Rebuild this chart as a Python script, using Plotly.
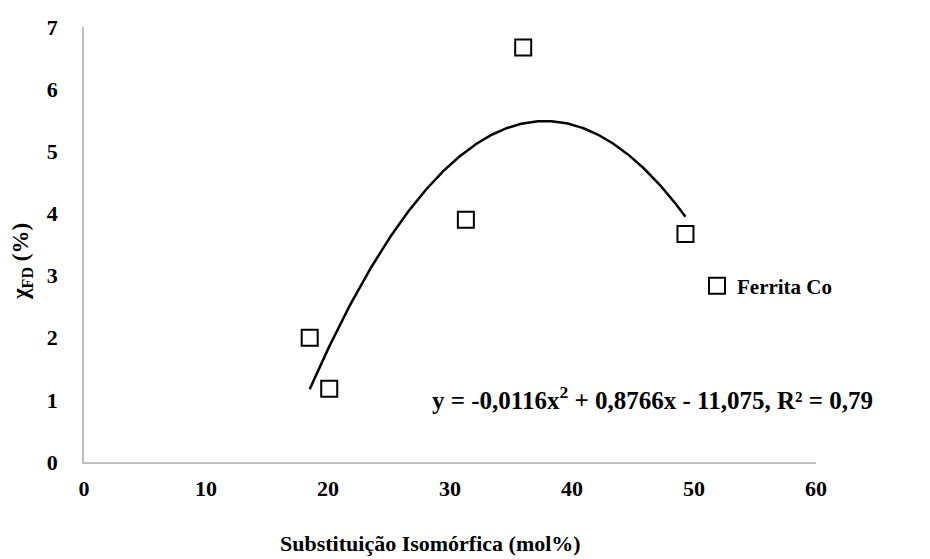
import numpy as np
import plotly.graph_objects as go

# Data
substituicao = [18.5, 20.1, 31.3, 36.0, 49.3]
chi_fd = [2.0, 1.18, 3.9, 6.67, 3.67]
series_name = "Ferrita Co"

# Trendline coefficients as shown on the chart
coef_a, coef_b, coef_c = -0.0116, 0.8766, -11.075
r2_text = "0,79"

x_ticks = [0, 10, 20, 30, 40, 50, 60]
y_ticks = [0, 1, 2, 3, 4, 5, 6, 7]

x_title = "Substituição Isomórfica (mol%)"
y_title = "χ<sub>FD</sub> (%)"

xt = np.linspace(min(substituicao), max(substituicao), 200)
yt = coef_a * xt**2 + coef_b * xt + coef_c

FONT = "Liberation Serif"

L, R, T, B = 84, 114, 27, 97
W, H = 930, 559
pw = W - L - R
ph = H - T - B


def px_x(p):
    return (p - L) / pw


def px_y(p):
    return (H - B - p) / ph


fig = go.Figure()
fig.add_trace(go.Scatter(
    x=xt, y=yt, mode="lines", line=dict(color="black", width=2.5),
    showlegend=False, hoverinfo="skip"))
fig.add_trace(go.Scatter(
    x=substituicao, y=chi_fd, mode="markers", name="<b>" + series_name + "</b>",
    marker=dict(symbol="square-open", size=16, color="black", line=dict(width=2, color="black"))))

eq = "<b>y = -0,0116x<sup>2</sup> + 0,8766x - 11,075, R² = " + r2_text + "</b>"
fig.add_annotation(x=px_x(875), y=px_y(398), xref="paper", yref="paper",
                   xanchor="right", yanchor="middle", text=eq, showarrow=False,
                   font=dict(family=FONT, size=25, color="black"))
fig.add_annotation(x=px_x(430), y=px_y(543), xref="paper", yref="paper",
                   xanchor="center", yanchor="middle", text="<b>" + x_title + "</b>",
                   showarrow=False, font=dict(family=FONT, size=22, color="black"))
fig.add_annotation(x=px_x(22), y=px_y(262), xref="paper", yref="paper",
                   xanchor="center", yanchor="middle", text="<b>" + y_title + "</b>",
                   textangle=-90, showarrow=False, font=dict(family=FONT, size=23, color="black"))

fig.update_layout(
    width=W, height=H,
    margin=dict(l=L, r=R, t=T, b=B, autoexpand=False),
    paper_bgcolor="white", plot_bgcolor="white",
    font=dict(family=FONT, color="black"),
    legend=dict(x=px_x(697), y=px_y(286), xanchor="left", yanchor="middle",
                font=dict(family=FONT, size=21, color="black"),
                itemwidth=30, bgcolor="rgba(0,0,0,0)"),
    xaxis=dict(range=[0, 60], tickvals=x_ticks, ticktext=["<b>%d</b>" % v for v in x_ticks],
               showgrid=False, zeroline=False, showline=True, linecolor="#bfbfbf", linewidth=1.5,
               ticks="", tickfont=dict(family=FONT, size=22, color="black"), ticklabelstandoff=6),
    yaxis=dict(range=[0, 7], tickvals=y_ticks, ticktext=["<b>%d</b>" % v for v in y_ticks],
               showgrid=False, zeroline=False, showline=True, linecolor="#bfbfbf", linewidth=1.5,
               ticks="", tickfont=dict(family=FONT, size=22, color="black"), ticklabelstandoff=20),
)

fig.write_html("out.html")
